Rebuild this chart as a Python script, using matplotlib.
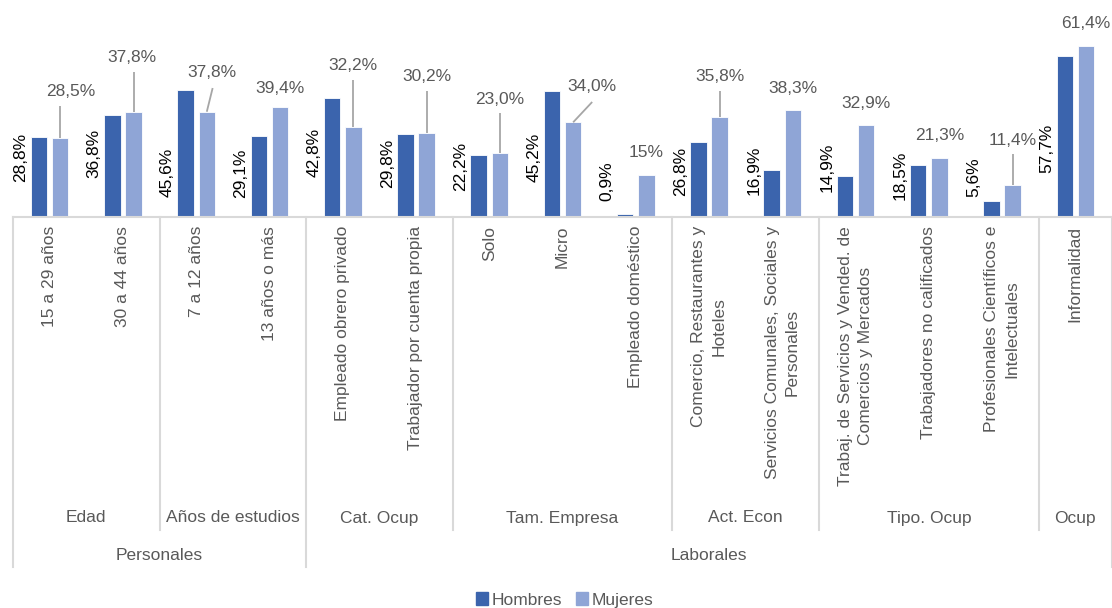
import matplotlib

matplotlib.use("Agg")
import matplotlib.pyplot as plt
from matplotlib.lines import Line2D
from matplotlib.patches import Patch
import numpy as np

plt.rcParams["font.family"] = ["Liberation Sans", "DejaVu Sans"]

categories = [
    "15 a 29 años", "30 a 44 años", "7 a 12 años", "13 años o más",
    "Empleado obrero privado", "Trabajador por cuenta propia",
    "Solo", "Micro", "Empleado doméstico",
    "Comercio, Restaurantes y\nHoteles", "Servicios Comunales, Sociales y\nPersonales",
    "Trabaj. de Servicios y Vended. de\nComercios y Mercados", "Trabajadores no calificados",
    "Profesionales Científicos e\nIntelectuales",
    "Informalidad",
]
hombres = [28.8, 36.8, 45.6, 29.1, 42.8, 29.8, 22.2, 45.2, 0.9, 26.8, 16.9, 14.9, 18.5, 5.6, 57.7]
mujeres = [28.5, 37.8, 37.8, 39.4, 32.2, 30.2, 23.0, 34.0, 15.0, 35.8, 38.3, 32.9, 21.3, 11.4, 61.4]
hombres_txt = ["28,8%", "36,8%", "45,6%", "29,1%", "42,8%", "29,8%", "22,2%", "45,2%",
               "0,9%", "26,8%", "16,9%", "14,9%", "18,5%", "5,6%", "57,7%"]
mujeres_txt = ["28,5%", "37,8%", "37,8%", "39,4%", "32,2%", "30,2%", "23,0%", "34,0%",
               "15%", "35,8%", "38,3%", "32,9%", "21,3%", "11,4%", "61,4%"]

# (nombre, primera categoria, ultima categoria)
grupos1 = [("Edad", 0, 1), ("Años de estudios", 2, 3), ("Cat. Ocup", 4, 5),
           ("Tam. Empresa", 6, 8), ("Act. Econ", 9, 10), ("Tipo. Ocup", 11, 13), ("Ocup", 14, 14)]
grupos2 = [("Personales", 0, 3), ("Laborales", 4, 14)]

# label placement (manual in the original)
h_lab_y = [21.5, 23.0, 16.2, 15.8, 23.3, 19.4, 18.3, 21.5, 12.9, 16.5, 16.9, 18.0, 15.1, 14.4, 24.8]
m_lab = [(0.15, 44.9), (-0.02, 57.1), (0.07, 52.0), (0.0, 46.1), (0.0, 54.4), (0.0, 50.4),
         (0.0, 42.2), (0.25, 46.9), (0.0, 23.0), (0.0, 50.4), (0.0, 46.0), (0.0, 40.6),
         (0.0, 29.1), (0.0, 27.6), (0.0, 69.3)]
m_leader = {0: (0.0, 39.9), 1: (0.0, 52.0), 2: (0.08, 46.3), 4: (0.0, 49.2), 5: (0.0, 45.2),
            6: (0.0, 37.3), 7: (0.26, 41.3), 9: (0.0, 45.2), 13: (0.0, 22.6)}

C_H = "#3B64AD"
C_M = "#8FA5D6"
GRAY = "#595959"
LINE = "#d9d9d9"

fig = plt.figure(figsize=(11.12, 6.08), dpi=100)
W, H = 1112, 608
base_px = 217
ax = fig.add_axes([13 / W, (H - base_px) / H, 1099 / W, base_px / H])
n = len(categories)
x = np.arange(n)
off, bw = 0.145, 0.225
ax.bar(x - off, hombres, bw, color=C_H, edgecolor="white", linewidth=0.6)
ax.bar(x + off, mujeres, bw, color=C_M, edgecolor="white", linewidth=0.6)
ax.set_xlim(-0.5, n - 0.5)
ax.set_ylim(0, base_px / 2.785)
ax.axis("off")

for i in range(n):
    ax.text(x[i] - off - bw / 2 - 0.03, h_lab_y[i], hombres_txt[i], rotation=90,
            ha="right", va="center", fontsize=12.5, color="black")
    dx, ty = m_lab[i]
    ax.text(x[i] + off + dx, ty, mujeres_txt[i], ha="center", va="center",
            fontsize=12.5, color=GRAY)
    if i in m_leader:
        lx, ly = m_leader[i]
        ax.plot([x[i] + off + lx, x[i] + off], [ly, mujeres[i]], color="#a6a6a6", lw=1.3,
                solid_capstyle="butt")

tr = ax.get_xaxis_transform()


def fy(px):
    return (base_px - px) / base_px


ax.plot([-0.5, n - 0.5], [0, 0], transform=tr, color=LINE, lw=1.5, clip_on=False)
for i, lab in enumerate(categories):
    ax.text(x[i], fy(226), lab, transform=tr, rotation=90, ha="center", va="top",
            fontsize=12.5, color=GRAY, linespacing=1.45, multialignment="center")

b1 = sorted({g[1] - 0.5 for g in grupos1} | {g[2] + 0.5 for g in grupos1})
b2 = sorted({g[1] - 0.5 for g in grupos2} | {g[2] + 0.5 for g in grupos2})
for b in b1:
    bottom = 567 if b in b2 else 530
    ax.plot([b, b], [0, fy(bottom)], transform=tr, color=LINE, lw=1.5, clip_on=False)
for name, a, b in grupos1:
    ax.text((a + b) / 2, fy(518), name, transform=tr, ha="center", va="center",
            fontsize=12.5, color=GRAY)
for name, a, b in grupos2:
    ax.text((a + b) / 2, fy(555), name, transform=tr, ha="center", va="center",
            fontsize=12.5, color=GRAY)

handles = [Patch(color=C_H, label="Hombres"), Patch(color=C_M, label="Mujeres")]
fig.legend(handles=handles, loc="center", bbox_to_anchor=(565 / W, 1 - 600 / H), ncol=2,
           frameon=False, fontsize=12.5, labelcolor=GRAY, handlelength=0.7, handleheight=0.7,
           handletextpad=0.2, columnspacing=0.8)

fig.savefig("out.png", dpi=100)
